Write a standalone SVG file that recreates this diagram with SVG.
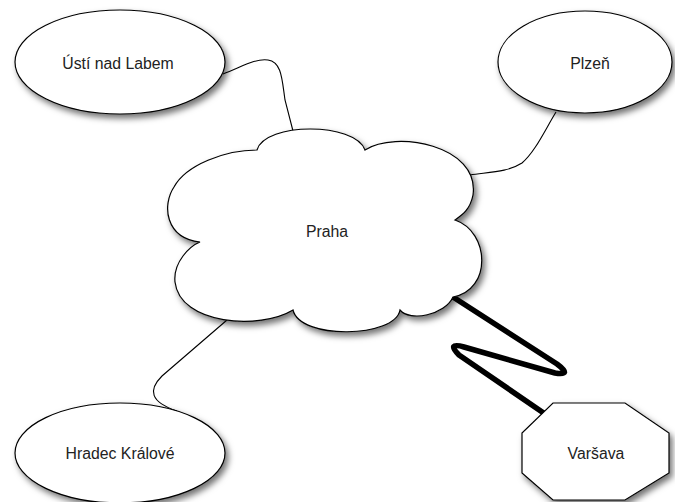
<svg xmlns="http://www.w3.org/2000/svg" width="675" height="502" viewBox="0 0 675 502">
<defs>
<filter id="sh" x="-20%" y="-20%" width="150%" height="150%">
<feDropShadow dx="3" dy="4" stdDeviation="3" flood-color="#000" flood-opacity="0.55"/>
</filter>
</defs>
<style>
.n{fill:#fff;stroke:#000;stroke-width:1.2;filter:url(#sh)}
.t{font-family:"Liberation Sans",Arial,sans-serif;font-size:15.8px;fill:#222;text-anchor:middle}
.c{fill:none;stroke:#000;stroke-width:1.1}
.z{fill:none;stroke:#000;stroke-width:5.5;stroke-linecap:round;stroke-linejoin:round}
</style>
<rect width="675" height="502" fill="#fff"/>
<g id="connectors">
<path class="c" d="M223,74 C240,68 255,58 268,60 C282,62 282,80 285,100 L293,131"/>
<path class="c" d="M556,112 C545,130 535,152 522,163 C508,172 490,172 470,175"/>
<path class="c" d="M227,320 L162,376 C148,390 150,402 177,411"/>
<path class="z" d="M453,297 L557,364 Q573,376 555,373 L464,347 Q446,342 459,355 L548,416"/>
</g>
<g id="usti">
<ellipse class="n" cx="120" cy="62" rx="105" ry="52"/>
<text class="t" x="118" y="68.5">Ústí nad Labem</text>
</g>
<g id="plzen">
<ellipse class="n" cx="585" cy="62" rx="87" ry="51"/>
<text class="t" x="590" y="68.5">Plzeň</text>
</g>
<g id="praha">
<path class="n" d="M200,242 C165,238 162,205 174,187 C186,165 225,150 257,150 C265,122 355,122 365,150 C395,130 480,145 473,195 C470,210 462,215 455,220 C490,232 492,290 453,297 C445,315 410,322 400,310 C395,338 300,340 293,310 C260,330 180,325 175,282 C173,262 190,246 200,242 Z"/>
<text class="t" x="327" y="236.5">Praha</text>
</g>
<g id="hradec">
<ellipse class="n" cx="120" cy="453" rx="105" ry="50"/>
<text class="t" x="120" y="458.5">Hradec Králové</text>
</g>
<g id="varsava">
<polygon class="n" points="553,403 625,403 669,433 669,473 625,500 553,500 522,473 522,433"/>
<text class="t" x="596" y="458.5">Varšava</text>
</g>
</svg>
